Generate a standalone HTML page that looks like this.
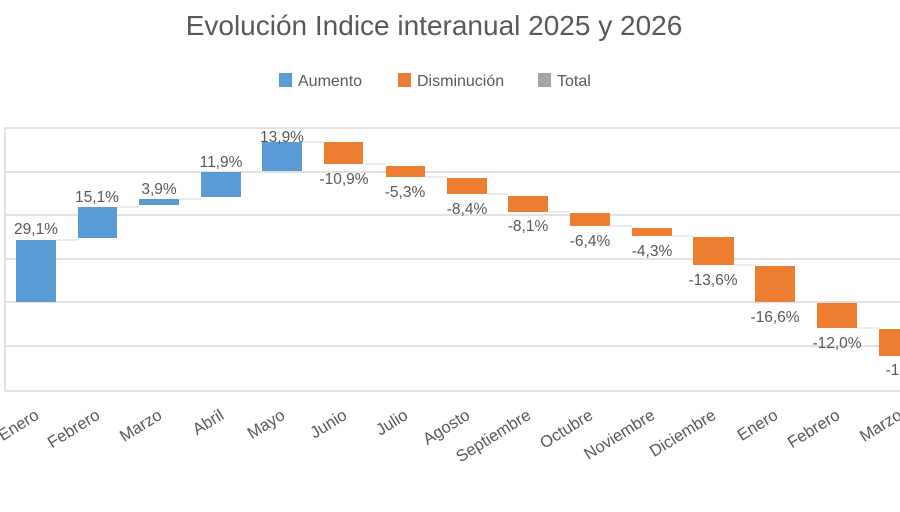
<!DOCTYPE html>
<html><head><meta charset="utf-8"><style>body{margin:0;background:#fff}svg{display:block}</style></head><body>
<svg width="900" height="512" xmlns="http://www.w3.org/2000/svg" font-family="'Liberation Sans',sans-serif">
<rect width="900" height="512" fill="#fff"/>
<text x="434" y="35" text-anchor="middle" font-size="28" fill="#595959">Evolución Indice interanual 2025 y 2026</text>
<g font-size="16" fill="#595959">
<rect x="279" y="73" width="13" height="14" fill="#5b9bd5"/><text x="298" y="86">Aumento</text>
<rect x="398" y="73" width="13" height="14" fill="#ed7d31"/><text x="417" y="86">Disminución</text>
<rect x="538" y="73" width="13" height="14" fill="#a5a5a5"/><text x="557" y="86">Total</text>
</g>
<g stroke="#d9d9d9" stroke-width="1.5">
<line x1="5" y1="128" x2="900" y2="128"/><line x1="5" y1="172" x2="900" y2="172"/><line x1="5" y1="215" x2="900" y2="215"/><line x1="5" y1="259" x2="900" y2="259"/><line x1="5" y1="302" x2="900" y2="302"/><line x1="5" y1="346" x2="900" y2="346"/><line x1="5" y1="391" x2="900" y2="391"/><line x1="5" y1="128" x2="5" y2="391"/>
</g>
<g stroke="#d9d9d9" stroke-width="1">
<line x1="56" y1="240" x2="78" y2="240"/><line x1="117" y1="207" x2="139" y2="207"/><line x1="179" y1="199" x2="201" y2="199"/><line x1="241" y1="172" x2="262" y2="172"/><line x1="302" y1="142" x2="324" y2="142"/><line x1="363" y1="164" x2="386" y2="164"/><line x1="425" y1="177" x2="447" y2="177"/><line x1="487" y1="194" x2="508" y2="194"/><line x1="548" y1="212" x2="570" y2="212"/><line x1="610" y1="226" x2="632" y2="226"/><line x1="672" y1="236" x2="693" y2="236"/><line x1="734" y1="265" x2="755" y2="265"/><line x1="795" y1="302" x2="817" y2="302"/><line x1="857" y1="328" x2="879" y2="328"/>
</g>
<g fill="#5b9bd5">
<rect x="16" y="240" width="40" height="62"/><rect x="78" y="207" width="39" height="31"/><rect x="139" y="199" width="40" height="6"/><rect x="201" y="172" width="40" height="25"/><rect x="262" y="142" width="40" height="29"/>
</g>
<g fill="#ed7d31">
<rect x="324" y="142" width="39" height="22"/><rect x="386" y="166" width="39" height="11"/><rect x="447" y="178" width="40" height="16"/><rect x="508" y="196" width="40" height="16"/><rect x="570" y="213" width="40" height="13"/><rect x="632" y="228" width="40" height="8"/><rect x="693" y="237" width="41" height="28"/><rect x="755" y="266" width="40" height="36"/><rect x="817" y="303" width="40" height="25"/><rect x="879" y="329" width="40" height="27"/>
</g>
<g font-size="15.5" fill="#595959" text-anchor="middle">
<text x="36" y="234">29,1%</text><text x="97" y="202">15,1%</text><text x="159" y="194">3,9%</text><text x="221" y="167">11,9%</text><text x="282" y="142">13,9%</text>
<text x="344" y="184">-10,9%</text><text x="405" y="197">-5,3%</text><text x="467" y="214">-8,4%</text><text x="528" y="231">-8,1%</text><text x="590" y="246">-6,4%</text><text x="652" y="256">-4,3%</text><text x="713" y="285">-13,6%</text><text x="775" y="322">-16,6%</text><text x="837" y="348">-12,0%</text><text x="899" y="375">-13,</text>
</g>
<g font-size="16.5" fill="#595959" text-anchor="end">
<text transform="translate(40,418) rotate(-32)">Enero</text>
<text transform="translate(101,418) rotate(-32)">Febrero</text>
<text transform="translate(163,418) rotate(-32)">Marzo</text>
<text transform="translate(225,418) rotate(-32)">Abril</text>
<text transform="translate(286,418) rotate(-32)">Mayo</text>
<text transform="translate(348,418) rotate(-32)">Junio</text>
<text transform="translate(409,418) rotate(-32)">Julio</text>
<text transform="translate(471,418) rotate(-32)">Agosto</text>
<text transform="translate(532,418) rotate(-32)">Septiembre</text>
<text transform="translate(594,418) rotate(-32)">Octubre</text>
<text transform="translate(656,418) rotate(-32)">Noviembre</text>
<text transform="translate(717,418) rotate(-32)">Diciembre</text>
<text transform="translate(779,418) rotate(-32)">Enero</text>
<text transform="translate(841,418) rotate(-32)">Febrero</text>
<text transform="translate(903,418) rotate(-32)">Marzo</text>
</g>
</svg>
</body></html>
